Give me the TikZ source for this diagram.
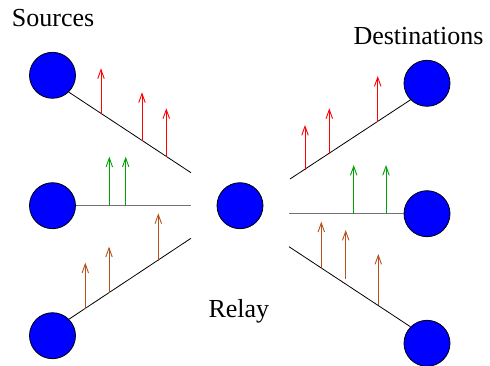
\documentclass[tikz,border=0pt]{standalone}
\usepackage{fontspec}
\setmainfont{Liberation Serif}
\usetikzlibrary{arrows.meta}
\definecolor{arrred}{RGB}{255,0,0}
\definecolor{arrgreen}{RGB}{0,160,0}
\definecolor{arrbrown}{RGB}{180,80,26}
\definecolor{nodeblue}{RGB}{0,0,255}
\tikzset{
  terminal/.style={circle, draw=black, line width=0.8pt, fill=nodeblue,
    minimum size=46pt, inner sep=0pt},
  link/.style={draw=black, line width=0.8pt},
  flatlink/.style={draw=black!55, line width=1.3pt},
  flow/.style={line width=0.9pt, -{Straight Barb[length=9pt,width=6.5pt]}},
  redflow/.style={flow, draw=arrred},
  greenflow/.style={flow, draw=arrgreen},
  brownflow/.style={flow, draw=arrbrown},
  caption/.style={anchor=base west, inner sep=0pt, font=\fontsize{26}{30}\selectfont}
}
\begin{document}
\begin{tikzpicture}[x=1pt, y=-1pt]
\useasboundingbox (0,0) rectangle (490,366);

% terminals
\node[terminal] (s1) at (52.5,75.3) {};
\node[terminal] (s2) at (52.5,205.7) {};
\node[terminal] (s3) at (52.5,335.7) {};
\node[terminal] (r)  at (240,205.7) {};
\node[terminal] (d1) at (427,83.3) {};
\node[terminal] (d2) at (427,213.7) {};
\node[terminal] (d3) at (427,343.3) {};

% free ends of the links near the relay
\coordinate (j1) at (191,172.7);
\coordinate (j2) at (191,205.7);
\coordinate (j3) at (191,238.3);
\coordinate (k1) at (290,179);
\coordinate (k2) at (289,213.7);
\coordinate (k3) at (289,246.7);

% links
\draw[link] (s1.-46) -- (j1);
\draw[flatlink] (s2.east) -- (j2);
\draw[link] (s3.45) -- (j3);
\draw[link] (k1) -- (d1.225);
\draw[flatlink] (k2) -- (d2.west);
\draw[link] (k3) -- (d3.135);

% first flow: red
\draw[redflow] (101,114.5) -- (101,68.3);
\draw[redflow] (142,140.7) -- (142,92.3);
\draw[redflow] (166.3,156.6) -- (166.3,108.3);
\draw[redflow] (305,170.5) -- (305,125);
\draw[redflow] (329.3,154) -- (329.3,108.3);
\draw[redflow] (377.7,122.5) -- (377.7,76);

% second flow: green
\draw[greenflow] (109.3,205.7) -- (109.3,156.7);
\draw[greenflow] (125.7,205.7) -- (125.7,156.7);
\draw[greenflow] (353.7,213.7) -- (353.7,165);
\draw[greenflow] (386,213.7) -- (386,165);

% third flow: brown
\draw[brownflow] (85.3,309) -- (85.3,262.7);
\draw[brownflow] (109,293) -- (109,246.7);
\draw[brownflow] (158.3,260.5) -- (158.3,213.3);
\draw[brownflow] (321.3,269) -- (321.3,221.7);
\draw[brownflow] (345.7,279) -- (345.7,230);
\draw[brownflow] (378.3,305) -- (378.3,254);

% captions
\node[caption] (src) at (11.7,26.7) {Sources};
\node[caption] (dst) at (353.3,44.3) {Destinations};
\node[caption] (rel) at (208.3,317.3) {Relay};
\end{tikzpicture}
\end{document}
